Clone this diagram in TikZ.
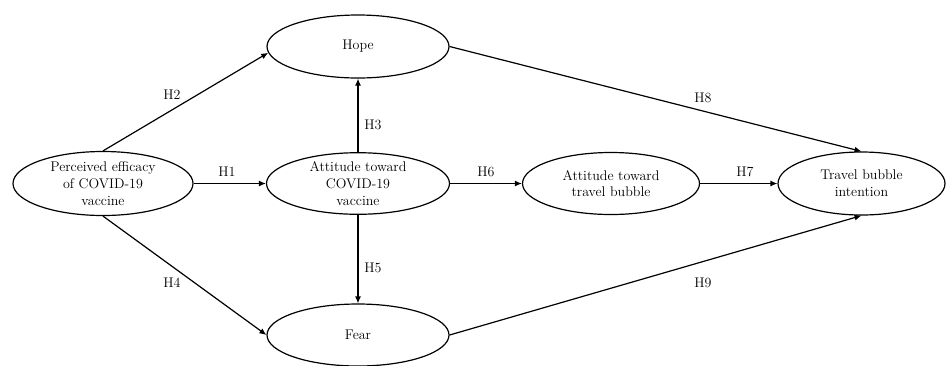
\documentclass[tikz,border=0pt]{standalone}
\usetikzlibrary{shapes.geometric,arrows.meta}
\begin{document}
\begin{tikzpicture}[x=1pt,y=-1pt,
  every node/.style={font=\fontsize{14}{16.7}\selectfont, text=black},
  ell/.style={draw, ellipse, line width=1.2pt, inner sep=0pt, align=center},
  lab/.style={inner sep=0pt},
  arr/.style={line width=1.2pt, -{Latex[length=7pt,width=6pt]}}]
\useasboundingbox (0,0) rectangle (947,365);
\node[ell, minimum width=180pt, minimum height=64pt] (perc) at (103,183.5) {Perceived efficacy\\of COVID-19\\vaccine};
\node[ell, minimum width=182pt, minimum height=63pt] (hope) at (358,46.5) {Hope};
\node[ell, minimum width=183pt, minimum height=61pt] (covid) at (358,183.5) {Attitude toward\\COVID-19\\vaccine};
\node[ell, minimum width=182pt, minimum height=62pt] (fear) at (358,335) {Fear};
\node[ell, minimum width=177pt, minimum height=62pt] (travel) at (611,183.5) {Attitude toward\\travel bubble};
\node[ell, minimum width=167pt, minimum height=63pt] (intent) at (861.5,183.5) {Travel bubble\\intention};
\draw[arr] (perc.east) -- (covid.west);
\draw[arr] (perc.north) -- (hope.184);
\draw[arr] (covid.north) -- (hope.south);
\draw[arr] (perc.south) -- (fear.west);
\draw[arr] (covid.south) -- (fear.north);
\draw[arr] (covid.east) -- (travel.west);
\draw[arr] (travel.east) -- (intent.west);
\draw[arr] (hope.east) -- (intent.north);
\draw[arr] (fear.east) -- (intent.south);
\node[lab] (h1) at (227,172) {H1};
\node[lab] (h2) at (172,95) {H2};
\node[lab] (h3) at (373,125) {H3};
\node[lab] (h4) at (172,283) {H4};
\node[lab] (h5) at (373,268) {H5};
\node[lab] (h6) at (486,172) {H6};
\node[lab] (h7) at (745,172) {H7};
\node[lab] (h8) at (703,98) {H8};
\node[lab] (h9) at (703,283) {H9};
\end{tikzpicture}
\end{document}
